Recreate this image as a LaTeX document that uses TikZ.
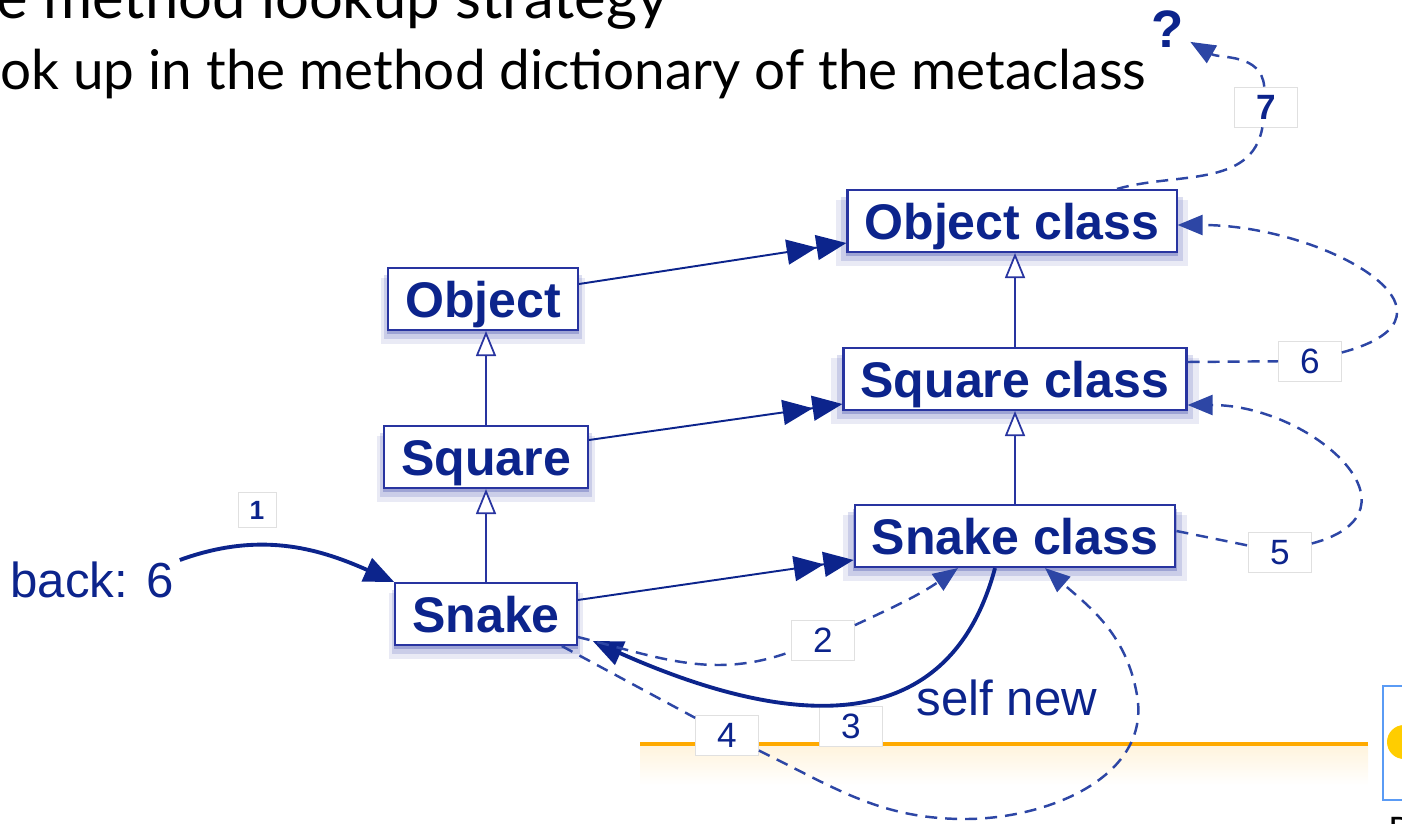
\documentclass[tikz,border=0pt]{standalone}
\usepackage{fontspec}
\usepackage{xcolor}
\usepackage{tikz}
\usetikzlibrary{positioning,arrows.meta,shadows}
\newfontfamily\diagfont{Liberation Sans}
\newfontfamily\slidefont{Lato}
\definecolor{navy}{RGB}{12,36,140}
\definecolor{boxline}{RGB}{40,52,160}
\definecolor{dashblue}{RGB}{45,70,165}
\definecolor{slideorange}{RGB}{255,170,0}
\definecolor{linkblue}{RGB}{90,155,245}
\definecolor{sunyellow}{RGB}{255,205,0}

\begin{document}
\begin{tikzpicture}[x=0.2mm,y=0.2mm,
  glow/.style={general shadow={shadow scale=1.07, shadow yshift=-2.2mm, fill=boxline, opacity=.10},
    general shadow={shadow scale=1.04, shadow yshift=-1.5mm, fill=boxline, opacity=.16},
    general shadow={shadow scale=1.01, shadow yshift=-0.8mm, fill=boxline, opacity=.28}},
  classbox/.style={draw=boxline, line width=1.2pt, fill=white, text=navy, glow, inner xsep=3.4mm, inner ysep=1mm,
    minimum height=12.4mm, text height=20.5pt, text depth=0pt, font=\diagfont\bfseries\fontsize{28.5}{30}\selectfont},
  numbox/.style={draw=black!12, fill=white, text=navy, minimum width=12.6mm, minimum height=8mm,
    text height=14pt, text depth=0pt, font=\diagfont\fontsize{20}{20}\selectfont},
  plain/.style={text=navy, font=\diagfont\fontsize{28}{30}\selectfont},
  inherit/.style={draw=boxline, line width=1pt, -{Triangle[length=5mm,width=4mm,fill=white]}},
  instance/.style={draw=navy, line width=1.1pt, -{Triangle[length=6mm,width=5mm]Triangle[length=6mm,width=5mm]}},
  message/.style={draw=navy, line width=2.2pt, -{Triangle[length=6mm,width=5mm]}},
  lookupline/.style={draw=dashblue, line width=1.4pt, dash pattern=on 2.4mm off 1.6mm},
  lookup/.style={lookupline, -{Triangle[length=5mm,width=4mm]}}]
  \useasboundingbox (0,0) rectangle (1402,823);

  \fill[top color=slideorange!14, bottom color=white, draw=none] (640,79) rectangle (1368,38);
  \draw[slideorange, line width=2.2pt] (640,79) -- (1368,79);
  \draw[linkblue, line width=1pt] (1383,23) rectangle (1420,137);
  \fill[sunyellow] (1404,81) circle (17);

  \node[anchor=base west, inner sep=0, font=\slidefont\fontsize{34}{36}\selectfont] (title) at (-4,804) {e method lookup strategy};
  \node[anchor=base west, inner sep=0, font=\slidefont\fontsize{31.2}{33}\selectfont] (point) at (0,733) {ok up in the method dictionary of the metaclass};
  \node[anchor=north west, inner sep=0, font=\slidefont\fontsize{20}{20}\selectfont] (pfrag) at (1388,6) {P};

  \node[classbox] (obj) at (483,524) {Object};
  \node[classbox] (sq) at (486,366) {Square};
  \node[classbox] (snk) at (486,209) {Snake};
  \node[classbox] (ocls) at (1012,602) {Object class};
  \node[classbox] (scls) at (1015,444) {Square class};
  \node[classbox] (nkcls) at (1015,287) {Snake class};

  \node[plain] (back) at (92,243) {back: 6};
  \node[plain] (selfnew) at (1007,125) {self new};
  \node[plain, font=\diagfont\bfseries\fontsize{30}{30}\selectfont] (q) at (1168,794) {?};

  \node[numbox, minimum width=7.6mm, minimum height=7mm, text height=11pt, font=\diagfont\bfseries\fontsize{15}{15}\selectfont] (n1) at (257,313) {1};
  \node[numbox] (n2) at (823,183) {2};
  \node[numbox] (n3) at (851,97) {3};
  \node[numbox] (n4) at (727,88) {4};
  \node[numbox] (n5) at (1280,271) {5};
  \node[numbox] (n6) at (1310,462) {6};
  \node[numbox, font=\diagfont\bfseries\fontsize{20}{20}\selectfont] (n7) at (1266,716) {7};

  \draw[inherit] (sq.north) -- (sq.north |- obj.south);
  \draw[inherit] (snk.north) -- (snk.north |- sq.south);
  \draw[inherit] (scls.north) -- (scls.north |- ocls.south);
  \draw[inherit] (nkcls.north) -- (nkcls.north |- scls.south);

  \draw[instance] ([yshift=3mm]obj.east) -- ([yshift=-4.4mm]ocls.west);
  \draw[instance] ([yshift=3.4mm]sq.east) -- ([yshift=-5mm]scls.west);
  \draw[instance] ([yshift=2.8mm]snk.east) -- ([yshift=-4.8mm]nkcls.west);

  \draw[message] ([yshift=4mm]back.east) to[out=20,in=156] (snk.north west);
  \draw[message] ([xshift=-4mm]nkcls.south) to[out=-105,in=-24,looseness=1.2] ([xshift=3mm,yshift=1mm]snk.south east);

  \draw[lookupline] ([yshift=-4.6mm]snk.east) to[out=-14,in=200] (n2);
  \draw[lookup] (n2) to[out=25,in=-145] ([xshift=-11.4mm]nkcls.south);
  \draw[lookupline] ([xshift=-3.2mm]snk.south east) -- (n4);
  \draw[lookup] (n4) to[out=-26,in=180] (965,4) to[out=0,in=-80] (1137,128) to[out=100,in=-41] ([xshift=6mm]nkcls.south);
  \draw[lookupline] ([yshift=1mm]nkcls.east) -- (n5);
  \draw[lookup] (n5) to[out=15,in=0,looseness=1.7] ([yshift=-5.2mm]scls.east);
  \draw[lookupline] ([yshift=3.4mm]scls.east) -- (n6);
  \draw[lookup] (n6) to[out=15,in=0,looseness=1.8] ([yshift=-0.8mm]ocls.east);
  \draw[lookupline] ([xshift=21mm]ocls.north) to[out=16,in=-100] (n7);
  \draw[lookup] (n7) to[out=95,in=-30] (q);
\end{tikzpicture}
\end{document}
